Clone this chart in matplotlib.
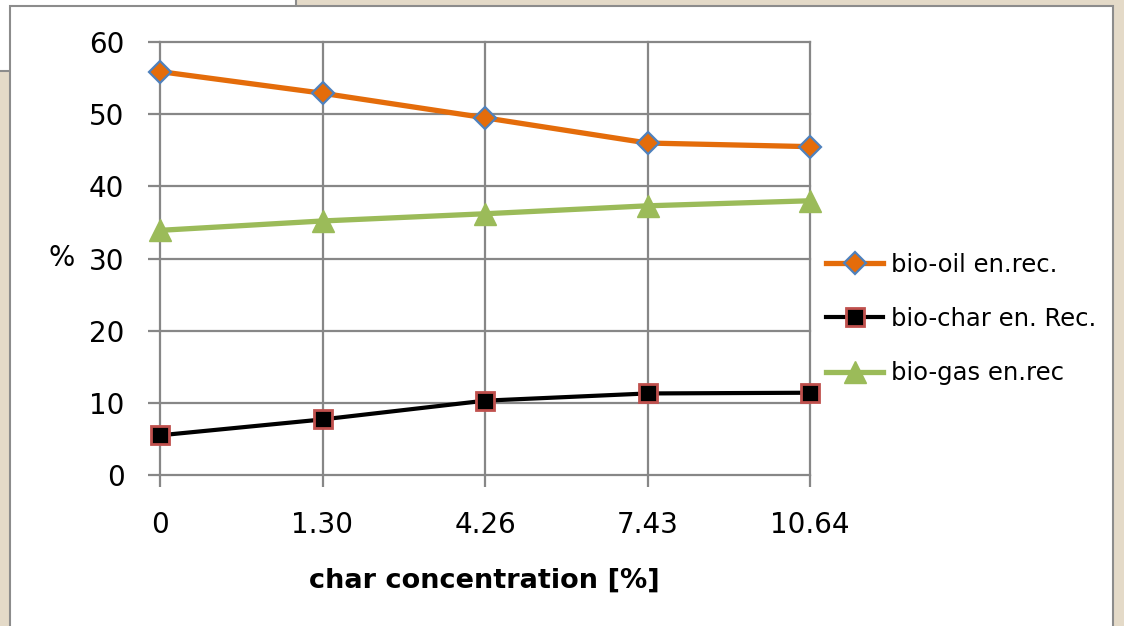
import matplotlib
matplotlib.use("Agg")
import matplotlib.pyplot as plt
from matplotlib.patches import Rectangle

# data
categories = ["0", "1.30", "4.26", "7.43", "10.64"]
bio_oil = [55.9, 52.9, 49.5, 46.0, 45.5]
bio_char = [5.5, 7.7, 10.3, 11.3, 11.4]
bio_gas = [33.9, 35.2, 36.2, 37.3, 38.0]
y_ticks = [0, 10, 20, 30, 40, 50, 60]

W, H = 1124, 626
plt.rcParams['font.family'] = ['DejaVu Sans']

fig = plt.figure(figsize=(W / 100, H / 100), dpi=100)
fig.patch.set_facecolor('#e4dac8')

def px_rect(x0, y0, x1, y1, z):
    # rectangle given in image pixels (origin top-left)
    r = Rectangle((x0 / W, 1 - y1 / H), (x1 - x0) / W, (y1 - y0) / H,
                  transform=fig.transFigure, facecolor='white',
                  edgecolor='#8c8c8c', linewidth=1.5, zorder=z)
    fig.add_artist(r)

px_rect(-5, -5, 296, 71, -3)     # top-left white panel
px_rect(10, 6, 1113, 640, -2)    # chart frame

ax = fig.add_axes([160 / W, 1 - 475 / H, 650 / W, 433 / H])
ax.set_facecolor('none')
x = list(range(len(categories)))

grid_c = '#878787'
ax.plot(x, bio_oil, color='#e46c0a', lw=3.8, marker='D', ms=11.5,
        mfc='#e46c0a', mec='#4f81bd', mew=1.6, label='bio-oil en.rec.',
        zorder=5, clip_on=False)
ax.plot(x, bio_char, color='black', lw=3.0, marker='s', ms=13.5,
        mfc='black', mec='#c0504d', mew=2.0, label='bio-char en. Rec.',
        zorder=5, clip_on=False)
ax.plot(x, bio_gas, color='#9bbb59', lw=3.8, marker='^', ms=16,
        mfc='#9bbb59', mec='#9bbb59', mew=1, label='bio-gas en.rec',
        zorder=5, clip_on=False)

ax.set_xlim(0, len(categories) - 1)
ax.set_ylim(0, 60)
ax.set_xticks(x)
ax.set_xticklabels(categories)
ax.set_yticks(y_ticks)

for s in ax.spines.values():
    s.set_visible(False)
ax.grid(True, color=grid_c, lw=1.6)
ax.set_axisbelow(True)
for gl in ax.get_xgridlines() + ax.get_ygridlines():
    gl.set_clip_on(False)
ax.tick_params(axis='both', direction='out', length=8.6, width=1.6,
               color=grid_c, labelsize=20, labelcolor='black')
ax.tick_params(axis='y', pad=17)
ax.tick_params(axis='x', pad=17.5)

fig.text(75 / W, 1 - 258 / H, '%', ha='right', va='center', fontsize=20)
fig.text(484 / W, 1 - 588 / H, 'char concentration [%]', ha='center',
         va='baseline', fontsize=19.5, fontweight='bold')

fig.legend(loc='center left', bbox_to_anchor=(814 / W, 1 - 319 / H),
           frameon=False, fontsize=17.5, handlelength=2.35,
           handletextpad=0.3, labelspacing=1.25, borderpad=0)

fig.savefig('out.png', dpi=100, facecolor=fig.get_facecolor())
